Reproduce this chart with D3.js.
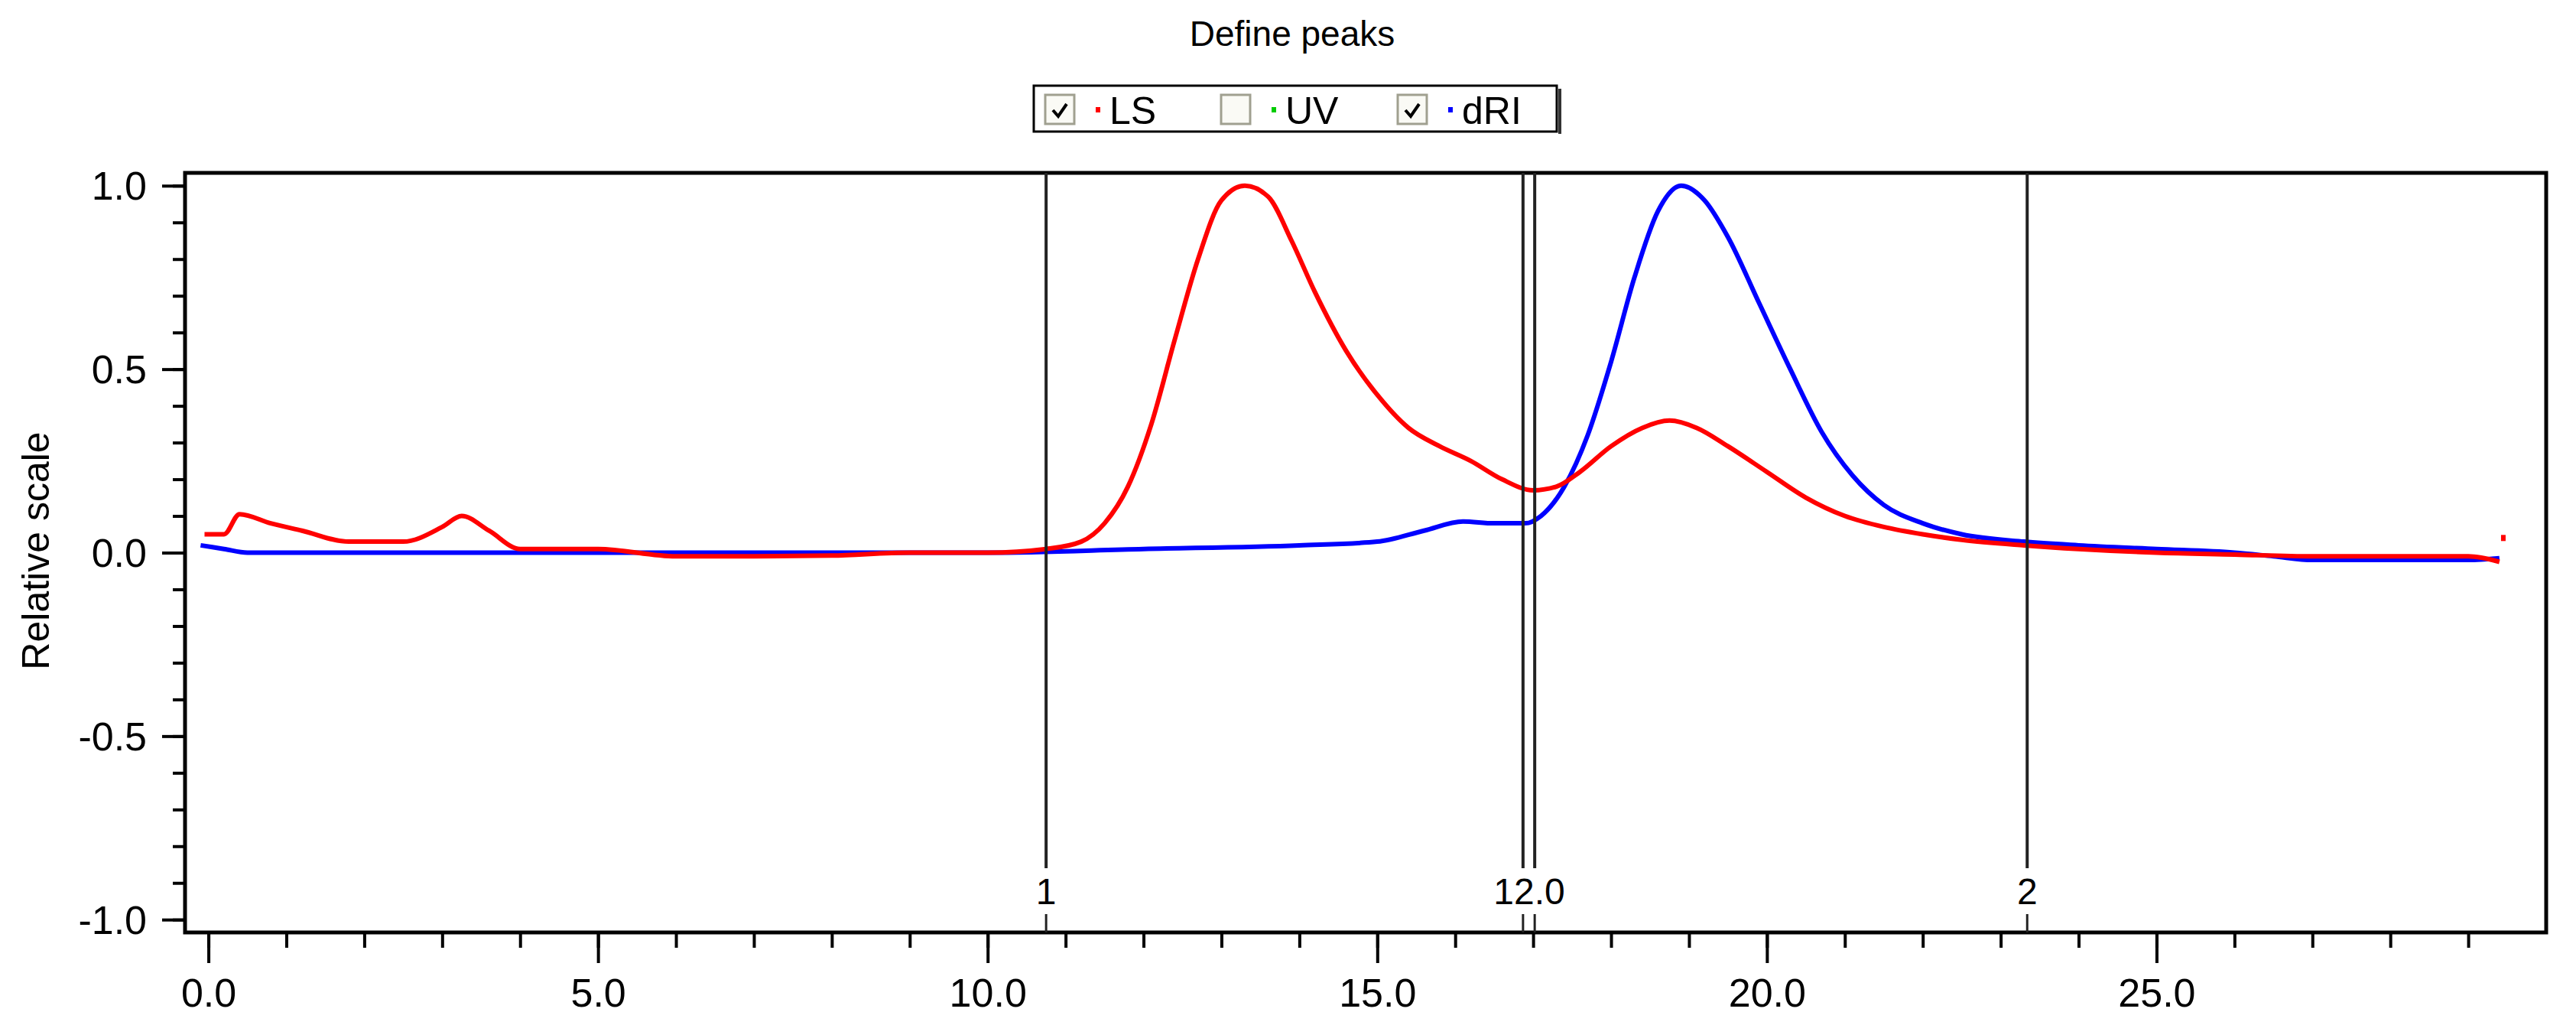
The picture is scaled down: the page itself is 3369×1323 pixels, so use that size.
<!DOCTYPE html>
<html><head><meta charset="utf-8">
<script src="https://cdn.jsdelivr.net/npm/d3@7"></script>
<style>body{margin:0;background:#fff}svg{display:block}text{font-family:"Liberation Sans",Arial,sans-serif}</style>
</head><body>
<script>
const lsX = [-0.05,0.2,0.4,0.8,1.2,1.8,2.5,3.0,3.25,3.6,4.0,5,6,7,8,9,10,10.75,11.2,11.5,11.8,12.1,12.4,12.7,13.0,13.3,13.6,13.9,14.2,14.6,15.0,15.4,15.8,16.2,16.6,17.0,17.3,17.6,18.0,18.4,18.75,19.1,19.5,20.0,20.5,21,21.5,22,22.5,23.3,24,25,26,27,28,29,29.4];
const lsY = [0.05,0.05,0.105,0.08,0.06,0.03,0.03,0.07,0.10,0.06,0.01,0.01,-0.01,-0.01,-0.008,0.0,0.0,0.01,0.03,0.08,0.18,0.35,0.58,0.80,0.96,1.0,0.97,0.85,0.71,0.55,0.43,0.34,0.29,0.25,0.20,0.17,0.18,0.22,0.29,0.34,0.36,0.34,0.29,0.22,0.15,0.10,0.07,0.05,0.035,0.02,0.01,0.0,-0.005,-0.01,-0.01,-0.01,-0.025];
const driX = [-0.1,0.2,0.5,2,4,6,8,10,12,14,15,15.6,16.1,16.5,16.9,17.1,17.4,17.7,18.0,18.3,18.6,18.9,19.2,19.5,19.9,20.3,20.7,21.1,21.5,22,22.5,23.3,24,25,26,26.5,27,28,29,29.4];
const driY = [0.02,0.01,0.0,0.0,0.0,0.0,0.0,0.0,0.01,0.02,0.03,0.06,0.085,0.08,0.08,0.10,0.18,0.32,0.52,0.75,0.93,1.0,0.96,0.86,0.68,0.50,0.33,0.21,0.13,0.08,0.05,0.03,0.02,0.01,0.0,-0.01,-0.02,-0.02,-0.02,-0.015];
const markers = [{x:10.75,label:"1"},{x:16.87,label:""},{x:17.02,label:""},{x:23.34,label:"2"}];
const markerText = [{x:16.95,label:"12.0"}];
const yTicks = [1.0,0.5,0.0,-0.5,-1.0];
const xTicks = [0,5,10,15,20,25];
const legendItems = [{name:"LS",color:"#ff0000",checked:true},{name:"UV",color:"#00cc00",checked:false},{name:"dRI",color:"#0000ff",checked:true}];

const W=3369,H=1323, L=242,R=3330,T=226,B=1219;
const svg=d3.select("body").append("svg").attr("width",W).attr("height",H);
const x=d3.scaleLinear().domain([-0.30,30.0]).range([L,R]);
const y=d3.scaleLinear().domain([-1.035,1.035]).range([B,T]);
const fmt=v=>d3.format(".1f")(v).replace("−","-");

svg.append("text").attr("x",1690).attr("y",60).attr("text-anchor","middle").attr("font-size",46).text("Define peaks");

const lg=svg.append("g");
lg.append("rect").attr("x",1352).attr("y",112).attr("width",684).attr("height",60).attr("fill","#fff").attr("stroke","#000").attr("stroke-width",3);
lg.append("line").attr("x1",2040).attr("x2",2040).attr("y1",116).attr("y2",175).attr("stroke","#333").attr("stroke-width",4);
const lx=[1367,1597,1828];
legendItems.forEach((d,i)=>{
  const g=lg.append("g").attr("transform",`translate(${lx[i]},124)`);
  g.append("rect").attr("x",0).attr("y",0).attr("width",38).attr("height",38).attr("fill","#fafaf5").attr("stroke","#a0a090").attr("stroke-width",3);
  if(d.checked) g.append("path").attr("d","M10,20 L17,28 L28,12").attr("fill","none").attr("stroke","#000").attr("stroke-width",4);
  g.append("rect").attr("x",66).attr("y",16).attr("width",6).attr("height",7).attr("fill",d.color);
  g.append("text").attr("x",84).attr("y",38).attr("font-size",50).text(d.name);
});

svg.append("rect").attr("x",L).attr("y",T).attr("width",R-L).attr("height",B-T).attr("fill","none").attr("stroke","#000").attr("stroke-width",5);

const yAxMinor=d3.axisLeft(y).tickValues(d3.range(-10,11).map(v=>v/10)).tickSize(16).tickFormat("");
svg.append("g").attr("transform",`translate(${L},0)`).call(yAxMinor).call(g=>{g.select(".domain").remove();g.selectAll("line").attr("stroke-width",4);});
const yAx=d3.axisLeft(y).tickValues(yTicks).tickSize(30).tickPadding(20).tickFormat(fmt);
svg.append("g").attr("transform",`translate(${L},0)`).call(yAx).call(g=>{g.select(".domain").remove();g.selectAll("line").attr("stroke-width",4);g.selectAll("text").attr("font-size",52).attr("font-family","Liberation Sans, Arial").attr("dy","0.35em");});
const xAxMinor=d3.axisBottom(x).tickValues(d3.range(0,30)).tickSize(20).tickFormat("");
svg.append("g").attr("transform",`translate(0,${B})`).call(xAxMinor).call(g=>{g.select(".domain").remove();g.selectAll("line").attr("stroke-width",4);});
const xAx=d3.axisBottom(x).tickValues(xTicks).tickSize(40).tickPadding(20).tickFormat(fmt);
svg.append("g").attr("transform",`translate(0,${B})`).call(xAx).call(g=>{g.select(".domain").remove();g.selectAll("line").attr("stroke-width",4);g.selectAll("text").attr("font-size",52).attr("font-family","Liberation Sans, Arial");});

svg.append("text").attr("transform","translate(64,720) rotate(-90)").attr("text-anchor","middle").attr("font-size",50).text("Relative scale");

const line=d3.line().x(d=>x(d[0])).y(d=>y(d[1])).curve(d3.curveMonotoneX);
svg.append("path").datum(d3.zip(driX,driY)).attr("d",line).attr("fill","none").attr("stroke","#0000ff").attr("stroke-width",6);
svg.append("path").datum(d3.zip(lsX,lsY)).attr("d",line).attr("fill","none").attr("stroke","#ff0000").attr("stroke-width",6);
svg.append("rect").attr("x",x(29.45)-3).attr("y",y(0.04)-4).attr("width",6).attr("height",8).attr("fill","#ff0000");

markers.forEach(m=>{
  svg.append("line").attr("x1",x(m.x)).attr("x2",x(m.x)).attr("y1",T).attr("y2",1135).attr("stroke","#222").attr("stroke-width",4);
  svg.append("line").attr("x1",x(m.x)).attr("x2",x(m.x)).attr("y1",1195).attr("y2",B).attr("stroke","#222").attr("stroke-width",3);
  if(m.label) svg.append("text").attr("x",x(m.x)).attr("y",1182).attr("text-anchor","middle").attr("font-size",48).text(m.label);
});
markerText.forEach(m=>svg.append("text").attr("x",x(m.x)).attr("y",1182).attr("text-anchor","middle").attr("font-size",48).text(m.label));
</script>
</body></html>
